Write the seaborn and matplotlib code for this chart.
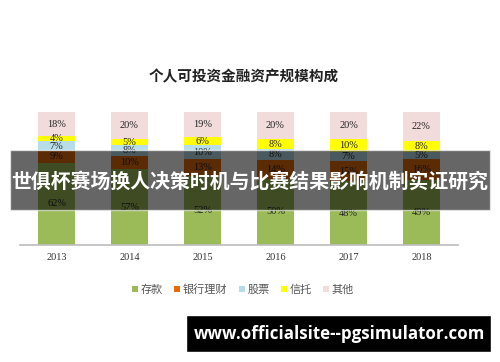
import matplotlib
matplotlib.use("Agg")
import matplotlib.pyplot as plt
import seaborn as sns
import pandas as pd
import numpy as np
from matplotlib.patches import Patch, Rectangle

years = ["2013", "2014", "2015", "2016", "2017", "2018"]
categories = ["存款", "银行理财", "股票", "信托", "其他"]
deposit = [62, 57, 52, 50, 48, 49]
wealth = [9, 10, 13, 14, 15, 16]
stocks = [7, 8, 10, 8, 7, 5]
trust = [4, 5, 6, 8, 10, 8]
other = [18, 20, 19, 20, 20, 22]
colors = ["#9BBB59", "#E46C0A", "#B7DEE8", "#FFFF00", "#F2DCDB"]

title = "个人可投资金融资产规模构成"
banner = "世俱杯赛场换人决策时机与比赛结果影响机制实证研究"
watermark = "www.officialsite--pgsimulator.com"

sns.set_theme(style="white")
plt.rcParams['font.family'] = ['Noto Sans CJK SC', 'DejaVu Sans']

series = [deposit, wealth, stocks, trust, other]
df = pd.DataFrame({c: v for c, v in zip(categories, series)}, index=years)
cum = df.cumsum(axis=1)

fig = plt.figure(figsize=(5, 3.62), dpi=100)
ax = fig.add_axes([0.04, 0.323, 0.876, 0.367])

for i in range(len(categories) - 1, -1, -1):
    d = pd.DataFrame({"year": years, "val": cum[categories[i]].values})
    sns.barplot(data=d, x="year", y="val", color=colors[i], width=0.5,
                saturation=1, ax=ax, edgecolor="none", linewidth=0)

for i, c in enumerate(categories):
    for j, y in enumerate(years):
        v = df.loc[y, c]
        mid = cum.loc[y, c] - v / 2
        ax.text(j, mid, f"{v}%", ha="center", va="center", fontsize=7.5,
                color="#222222", family=["Liberation Serif", "DejaVu Sans"])

ax.set_ylim(0, 100)
ax.set_xlim(-0.5, 5.5)
ax.set_xlabel("")
ax.set_ylabel("")
ax.set_yticks([])
for s in ["top", "left", "right"]:
    ax.spines[s].set_visible(False)
ax.spines["bottom"].set_color("#BFBFBF")
ax.tick_params(axis="x", length=0, pad=6, labelsize=7.5, labelcolor="#333333")
for lab in ax.get_xticklabels():
    lab.set_family(["Liberation Serif", "DejaVu Sans"])

fig.text(0.487, 0.79, title, ha="center", va="center", fontsize=10.5,
         fontweight="bold", color="#222222")

handles = [Patch(facecolor=c, edgecolor="none") for c in colors]
fig.legend(handles, categories, loc="center", bbox_to_anchor=(0.486, 0.2),
           ncol=5, frameon=False, fontsize=8, handlelength=0.55,
           handleheight=0.55, handletextpad=0.25, columnspacing=1.0,
           labelcolor="#555555")

# dark banner overlay
fig.patches.append(Rectangle((10 / 500, 1 - 210 / 362), 480 / 500, 60 / 362,
                             transform=fig.transFigure, facecolor="black",
                             alpha=0.6, zorder=10))
fig.text(0.5, 1 - 181 / 362, banner, ha="center", va="center", fontsize=14.3,
         fontweight="bold", color="white", zorder=11)

# watermark
fig.patches.append(Rectangle((186 / 500, 1 - 352 / 362), 305 / 500, 37 / 362,
                             transform=fig.transFigure, facecolor="black",
                             zorder=10))
fig.text(340 / 500, 1 - 334 / 362, watermark, ha="center", va="center",
         fontsize=12.2, fontweight="bold", color="white", zorder=11,
         family=["Open Sans", "DejaVu Sans"])

fig.savefig("out.png", dpi=100)
